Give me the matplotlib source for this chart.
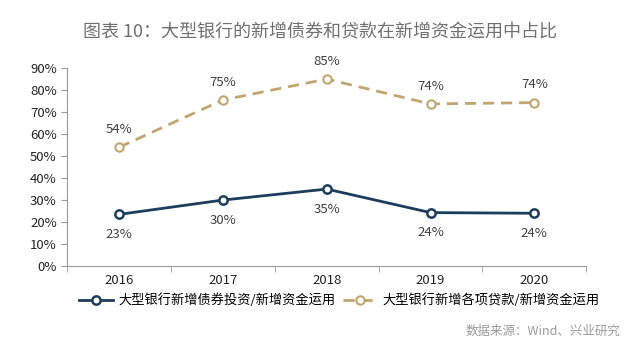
import matplotlib.pyplot as plt
from matplotlib.ticker import PercentFormatter

plt.rcParams['font.family'] = ['Noto Sans CJK SC', 'DejaVu Sans']

# data
years = ['2016', '2017', '2018', '2019', '2020']
bond_share = [23.5, 30.0, 35.0, 24.3, 24.0]
loan_share = [54.0, 75.5, 85.0, 73.7, 74.3]
bond_labels = ['23%', '30%', '35%', '24%', '24%']
loan_labels = ['54%', '75%', '85%', '74%', '74%']

navy = '#1d3d5c'
tan = '#c2a56e'

fig = plt.figure(figsize=(6.4, 3.62), dpi=100)
ax = fig.add_axes([0.105, 0.265, 0.811, 0.547])

x = list(range(len(years)))
ax.plot(x, bond_share, color=navy, lw=2, marker='o', ms=6, mfc='white',
        mec=navy, mew=1.8, label='大型银行新增债券投资/新增资金运用')
ax.plot(x, loan_share, color=tan, lw=2, ls=(0, (4, 2.5)), marker='o', ms=6,
        mfc='white', mec=tan, mew=1.5, label='大型银行新增各项贷款/新增资金运用')

for i in x:
    ax.annotate(bond_labels[i], (i, bond_share[i]), xytext=(0, -10), textcoords='offset points',
                ha='center', va='top', fontsize=9.5, color='#404040')
    ax.annotate(loan_labels[i], (i, loan_share[i]), xytext=(0, 8), textcoords='offset points',
                ha='center', va='bottom', fontsize=9.5, color='#404040')

ax.set_xlim(-0.5, 4.5)
ax.set_ylim(0, 90)
ax.set_yticks(range(0, 91, 10))
ax.yaxis.set_major_formatter(PercentFormatter(decimals=0))
ax.set_xticks(x)
ax.set_xticklabels(years)
ax.set_xticks([i - 0.5 for i in range(6)], minor=True)
ax.tick_params(axis='x', which='major', length=0, labelsize=9.5, pad=6, colors='#222222')
ax.tick_params(axis='x', which='minor', length=4, color='#999999')
ax.tick_params(axis='y', length=4, color='#999999', labelsize=9.5, labelcolor='#222222')
for s in ['top', 'right']:
    ax.spines[s].set_visible(False)
for s in ['left', 'bottom']:
    ax.spines[s].set_color('#999999')

fig.text(0.5, 0.91, '图表 10：大型银行的新增债券和贷款在新增资金运用中占比',
         ha='center', va='center', fontsize=13, color='#707070')
fig.legend(loc='center', bbox_to_anchor=(0.53, 0.17), ncol=2, frameon=False,
           fontsize=9.5, handlelength=2.6, columnspacing=0.6, handletextpad=0.4)
fig.text(0.97, 0.085, '数据来源：Wind、兴业研究', ha='right', va='center',
         fontsize=9, color='#9a9a9a')

fig.savefig('out.png', dpi=100)
